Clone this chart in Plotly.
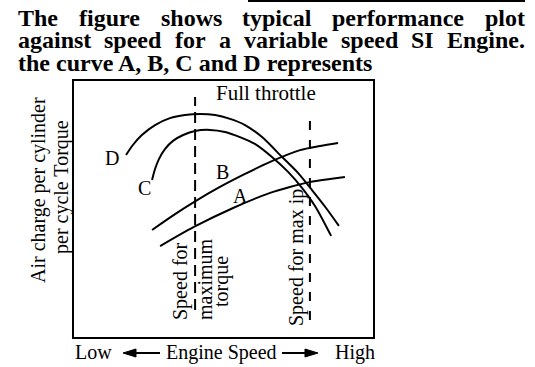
import plotly.graph_objects as go

# ---------------- data (chart units: speed 0-100, value 0-100) ----------------
d_x = [17.4, 19.7, 22.7, 27.1, 32.1, 37.1, 42.1, 47.2, 52.2, 57.2, 62.9, 69.6, 74.9, 79.6, 84.3, 88.6]
d_y = [71.1, 75.0, 78.9, 82.8, 85.5, 86.7, 87.1, 86.7, 85.2, 82.8, 78.1, 70.3, 64.1, 57.4, 50.4, 43.4]

c_x = [26.1, 27.1, 28.4, 30.4, 33.1, 36.5, 40.5, 45.5, 50.5, 55.5, 60.5, 66.2, 71.6, 76.3, 80.6, 86.0]
c_y = [61.3, 65.6, 69.5, 73.4, 76.6, 78.9, 80.5, 80.9, 80.1, 78.1, 75.4, 70.3, 64.5, 58.2, 51.2, 39.5]

b_x = [26.1, 33.8, 40.1, 48.8, 57.2, 65.6, 75.6, 82.3, 88.3]
b_y = [41.8, 48.0, 52.7, 58.6, 63.7, 68.4, 73.0, 74.6, 75.8]

a_x = [28.8, 40.1, 53.2, 65.6, 72.2, 78.9, 85.6, 90.6]
a_y = [35.5, 43.0, 50.4, 56.3, 58.6, 60.5, 61.7, 62.5]

max_torque_speed = 40.5
max_torque_span = [10.5, 93.75]
max_ip_speed = 78.9
max_ip_span = [6.6, 85.9]

curve_labels = ["D", "C", "B", "A"]

title_lines = [
    "The figure shows typical performance plot",
    "against speed for a variable speed SI Engine.",
    "the curve A, B, C and D represents",
]

# ---------------- layout helpers ----------------
W, H = 535, 367
BOX = (74, 81, 373, 337)  # left, top, right, bottom in px


def px(x):
    return x / W


def py(y):
    return 1 - y / H


FONT = "Liberation Serif, Times New Roman, serif"

# Times bold advance widths (per 1000 em) for justification
TB = {' ': 250, 'T': 667, 'h': 556, 'e': 444, 'f': 333, 'i': 278, 'g': 500, 'u': 556,
      'r': 444, 's': 389, 'o': 500, 'w': 722, 't': 333, 'y': 500, 'p': 556, 'c': 444,
      'a': 500, 'l': 278, 'm': 833, 'n': 556, 'v': 500, 'b': 556, 'd': 556, 'S': 556,
      'I': 389, 'E': 667, '.': 250, 'A': 722, ',': 250, 'B': 667, 'C': 722, 'D': 722}


def wlen(word, size):
    return sum(TB.get(ch, 500) for ch in word) * size / 1000.0


fig = go.Figure()

line_style = dict(color="black", width=2, shape="spline", smoothing=0.8)
for xs, ys in [(d_x, d_y), (c_x, c_y), (b_x, b_y), (a_x, a_y)]:
    fig.add_trace(go.Scatter(x=xs, y=ys, mode="lines", line=line_style,
                             hoverinfo="skip", showlegend=False))

fig.add_trace(go.Scatter(x=[max_torque_speed, max_torque_speed], y=max_torque_span,
                         mode="lines", line=dict(color="black", width=2, dash="11px,6px"),
                         hoverinfo="skip", showlegend=False))
fig.add_trace(go.Scatter(x=[max_ip_speed, max_ip_speed], y=max_ip_span,
                         mode="lines", line=dict(color="black", width=2, dash="9px,10px"),
                         hoverinfo="skip", showlegend=False))

annotations = []

# title, justified lines
TS = 24
baselines = [26, 48, 71]
x0, x1 = 17, 524
for i, line in enumerate(title_lines):
    words = line.split(" ")
    if i < 2:
        total = sum(wlen(w, TS) for w in words)
        gap = (x1 - x0 - total) / (len(words) - 1)
        xpos = x0
        for w in words:
            annotations.append(dict(text="<b>%s</b>" % w, x=px(xpos - 1), y=py(baselines[i] - 8),
                                    xref="paper", yref="paper", xanchor="left", yanchor="middle",
                                    showarrow=False, font=dict(family=FONT, size=TS, color="black")))
            xpos += wlen(w, TS) + gap
    else:
        annotations.append(dict(text="<b>%s</b>" % line, x=px(x0 - 1), y=py(baselines[i] - 8),
                                xref="paper", yref="paper", xanchor="left", yanchor="middle",
                                showarrow=False, font=dict(family=FONT, size=TS, color="black")))


def txt(text, x, y, angle=0, size=20):
    annotations.append(dict(text=text, x=px(x), y=py(y), xref="paper", yref="paper",
                            xanchor="center", yanchor="middle", showarrow=False,
                            textangle=angle, font=dict(family=FONT, size=size, color="black")))


# curve labels
for lab, (lx, ly) in zip(curve_labels, [(112, 158), (144, 188), (222, 172), (240, 196)]):
    txt(lab, lx, ly)

txt("Full throttle", 266, 93, size=21)
txt("Air charge per cylinder", 38, 190, -90)
txt("per cycle Torque", 61, 187, -90)
txt("Speed for", 180, 281, -90)
txt("maximum", 205, 279, -90)
txt("torque", 221, 282, -90)
txt("Speed for max ip", 296, 258, -90)
txt("Low", 93, 352)
txt("Engine Speed", 221, 352)
txt("High", 355, 352)

shapes = [
    # cut-off rule at very top
    dict(type="line", xref="paper", yref="paper", x0=px(248), x1=px(525), y0=py(1), y1=py(1),
         line=dict(color="black", width=2)),
    # axis arrows
    dict(type="line", xref="paper", yref="paper", x0=px(133), x1=px(160), y0=py(353), y1=py(353),
         line=dict(color="black", width=2)),
    dict(type="path", xref="paper", yref="paper",
         path="M %f %f L %f %f L %f %f Z" % (px(123), py(353), px(136), py(349), px(136), py(357)),
         fillcolor="black", line=dict(color="black", width=1)),
    dict(type="line", xref="paper", yref="paper", x0=px(282), x1=px(308), y0=py(353), y1=py(353),
         line=dict(color="black", width=2)),
    dict(type="path", xref="paper", yref="paper",
         path="M %f %f L %f %f L %f %f Z" % (px(318), py(353), px(305), py(349), px(305), py(357)),
         fillcolor="black", line=dict(color="black", width=1)),
]

axis_common = dict(showgrid=False, zeroline=False, showticklabels=False, ticks="",
                   showline=True, mirror=True, linecolor="black", linewidth=2, fixedrange=True)

fig.update_layout(
    width=W, height=H,
    margin=dict(l=0, r=0, t=0, b=0),
    paper_bgcolor="white", plot_bgcolor="white",
    xaxis=dict(range=[0, 100], domain=[px(BOX[0]), px(BOX[2])], **axis_common),
    yaxis=dict(range=[0, 100], domain=[py(BOX[3]), py(BOX[1])], **axis_common),
    annotations=annotations,
    shapes=shapes,
    showlegend=False,
)

fig.write_html("out.html", config={"displayModeBar": False},
               post_script="document.body.style.margin='0px';document.body.style.padding='0px';"
                           "document.body.style.overflow='hidden';")
